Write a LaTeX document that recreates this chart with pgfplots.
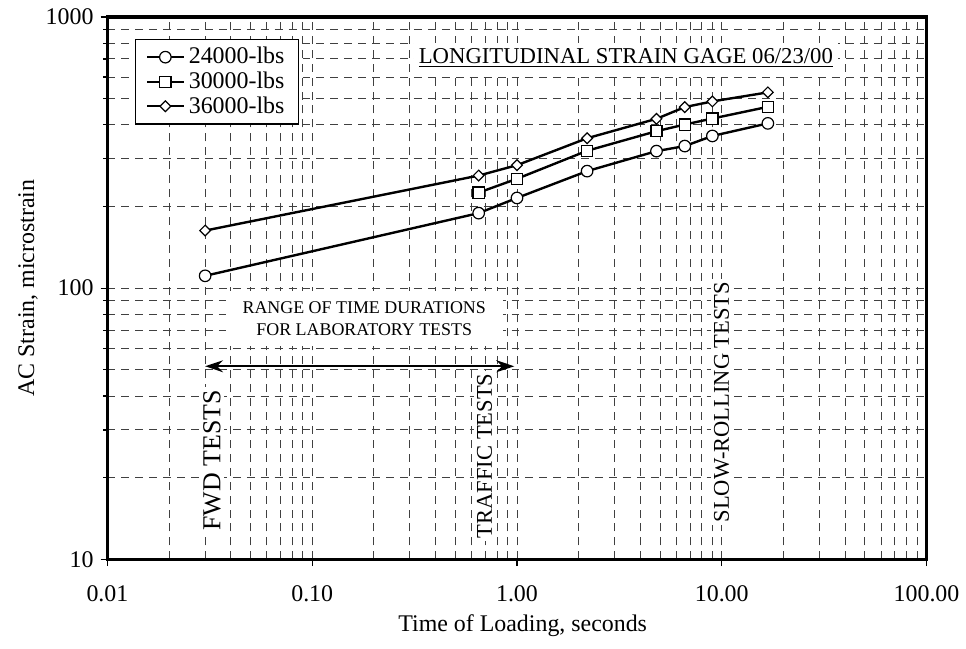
\documentclass[border=0pt]{standalone}
\usepackage{fontspec}
\setmainfont{Liberation Serif}
\usepackage{pgfplots}
\pgfplotsset{compat=1.18}
\usetikzlibrary{arrows.meta}
\begin{document}
\begin{tikzpicture}
\begin{axis}[
  xmode=log, ymode=log,
  scale only axis,
  width=411.5pt, height=272.5pt,
  xmin=0.01, xmax=100, ymin=10, ymax=1000,
  font=\fontsize{12}{14}\selectfont,
  /pgf/number format/assume math mode=true,
  xtick={0.01,0.1,1,10,100},
  xticklabels={0.01,0.10,1.00,10.00,100.00},
  ytick={10,100,1000},
  yticklabels={10,100,1000},
  minor xtick={0.02,0.03,0.04,0.05,0.06,0.07,0.08,0.09,0.2,0.3,0.4,0.5,0.6,0.7,0.8,0.9,2,3,4,5,6,7,8,9,20,30,40,50,60,70,80,90},
  minor ytick={20,30,40,50,60,70,80,90,200,300,400,500,600,700,800,900},
  grid=both,
  major grid style={black!75, line width=0.45pt, dash pattern=on 4pt off 3pt},
  minor grid style={black!75, line width=0.45pt, dash pattern=on 4pt off 3pt},
  tick pos=left,
  tick align=outside,
  major tick length=3.5pt,
  minor tick length=2pt,
  tick style={black, line width=0.6pt},
  minor x tick style={draw=none},
  axis line style={line width=1.7pt},
  xticklabel style={yshift=-6pt},
  xlabel={Time of Loading, seconds},
  ylabel={AC Strain, microstrain},
  xlabel style={at={(axis description cs:0.507,-0.123)}, anchor=center},
  ylabel style={at={(axis description cs:-0.097,0.5)}, anchor=center},
  clip=false,
  legend cell align=left,
  legend image code/.code={%
    \draw[mark repeat=2,mark phase=2] plot coordinates {(0pt,0pt) (9.2pt,0pt) (18.4pt,0pt)};},
  legend style={at={(axis description cs:0.034,0.9596)}, anchor=north west,
    draw=black, line width=0.6pt, fill=white,
    font=\fontsize{12}{12.5}\selectfont, row sep=-1.5pt, inner xsep=5pt, inner ysep=2pt},
]
\addplot[black, line width=1.2pt, mark=*, mark size=2.9pt,
  mark options={fill=white, draw=black, line width=0.6pt}]
  coordinates {(0.03,111) (0.65,189) (1.0,215) (2.2,270) (4.8,320) (6.6,334) (9.0,364) (16.8,405)};
\addplot[black, line width=1.2pt, mark=square*, mark size=2.8pt,
  mark options={fill=white, draw=black, line width=0.6pt}]
  coordinates {(0.65,225) (1.0,253) (2.2,321) (4.8,379) (6.6,401) (9.0,422) (16.8,466)};
\addplot[black, line width=1.2pt, mark=square*, mark size=1.9pt,
  mark options={fill=white, draw=black, line width=0.6pt, rotate=45}]
  coordinates {(0.03,163) (0.65,260) (1.0,284) (2.2,357) (4.8,421) (6.6,465) (9.0,488) (16.8,527)};
\legend{24000-lbs,30000-lbs,36000-lbs}

\node[fill=white, inner sep=2.5pt, font=\fontsize{11.4}{13}\selectfont] at (axis description cs:0.633,0.925)
  {\underline{LONGITUDINAL STRAIN GAGE 06/23/00}};
\node[fill=white, minimum width=139pt, minimum height=28pt, align=center,
  font=\fontsize{9}{11}\selectfont, inner sep=1pt] at (axis description cs:0.3135,0.444)
  {RANGE OF TIME DURATIONS\\FOR LABORATORY TESTS};
\draw[{Stealth[length=9pt,width=6pt]}-{Stealth[length=9pt,width=6pt]}, line width=1pt]
  (axis cs:0.03,51.5) -- (axis cs:0.97,51.5);
\node[rotate=90, anchor=west, inner sep=1.5pt, fill=white, font=\fontsize{13}{15}\selectfont]
  at (axis description cs:0.1276,0.047) {FWD TESTS};
\node[rotate=90, anchor=west, inner sep=1.5pt, fill=white, font=\fontsize{11.3}{13}\selectfont]
  at (axis description cs:0.4605,0.033) {TRAFFIC TESTS};
\node[rotate=90, anchor=west, inner sep=1.5pt, fill=white, font=\fontsize{11.3}{13}\selectfont]
  at (axis description cs:0.7497,0.062) {SLOW-ROLLING TESTS};
\path (axis description cs:-0.1312,-0.1651) rectangle (axis description cs:1.0425,1.0312);
\end{axis}
\end{tikzpicture}
\end{document}
